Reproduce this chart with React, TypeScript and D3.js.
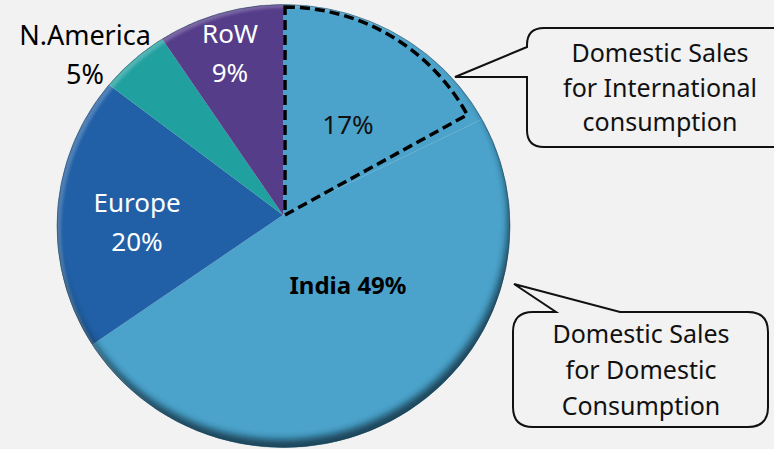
import React, { useRef, useEffect } from "react";
import * as d3 from "d3";

// slices clockwise from 12 o'clock
const SLICES = ["Domestic Intl", "India", "Europe", "N.America", "RoW"];
const SHARES = [17, 49, 20, 5, 9];
const COLORS = ["#4ba3cb", "#4ba3cb", "#2160a6", "#20a09f", "#553d8a"];
const LABELS = [["17%"], ["India 49%"], ["Europe", "20%"], ["N.America", "5%"], ["RoW", "9%"]];
const CALLOUT_INTL = ["Domestic Sales", "for International", "consumption"];
const CALLOUT_DOM = ["Domestic Sales", "for Domestic", "Consumption"];

const W = 774;
const H = 449;

function PieChart() {
  const svgRef = useRef<SVGSVGElement>(null);

  useEffect(() => {
    const svg = d3.select(svgRef.current);
    svg.selectAll("*").remove();

    // the pie is drawn slightly tilted: the rim is an ellipse, the apex sits above its centre
    const cx = 283.5, cy = 226, rx = 226.5, ry = 221.5;
    const apex: [number, number] = [283, 215];
    const rim = (a: number): [number, number] => [cx + rx * Math.sin(a), cy - ry * Math.cos(a)];
    const ellipseD = (x: number, y: number) =>
      `M${x - rx},${y}a${rx},${ry} 0 1 0 ${2 * rx},0a${rx},${ry} 0 1 0 ${-2 * rx},0Z`;

    const defs = svg.append("defs");
    defs.append("clipPath").attr("id", "pieClip")
      .append("path").attr("d", ellipseD(cx, cy));
    defs.append("filter").attr("id", "blur3").attr("x", "-10%").attr("y", "-10%").attr("width", "120%").attr("height", "120%")
      .append("feGaussianBlur").attr("stdDeviation", 3.5);
    defs.append("filter").attr("id", "blur2")
      .append("feGaussianBlur").attr("stdDeviation", 1.5);

    const arcs = d3.pie<number>().sort(null).value((d) => d)(SHARES);
    const lineGen = d3.line();

    const g = svg.append("g");
    g.selectAll("path.slice")
      .data(arcs)
      .join("path")
      .attr("class", "slice")
      .attr("d", (d) => {
        const n = Math.max(4, Math.ceil((d.endAngle - d.startAngle) / 0.01));
        const pts: [number, number][] = [apex];
        d3.range(n + 1).forEach((i) => pts.push(rim(d.startAngle + (d.endAngle - d.startAngle) * i / n)));
        return lineGen(pts) + "Z";
      })
      .attr("fill", (d, i) => COLORS[i]);

    // bevel: dark rim bottom/right, light rim top/left
    const bevel = svg.append("g").attr("clip-path", "url(#pieClip)");
    bevel.append("path")
      .attr("d", `M-50,-50H${W + 50}V${H + 50}H-50Z` + ellipseD(cx - 2, cy - 8))
      .attr("fill-rule", "evenodd")
      .attr("fill", "#0a2536")
      .attr("opacity", 0.75)
      .attr("filter", "url(#blur3)");
    bevel.append("path")
      .attr("d", `M-50,-50H${W + 50}V${H + 50}H-50Z` + ellipseD(cx + 4, cy + 3))
      .attr("fill-rule", "evenodd")
      .attr("fill", "#ffffff")
      .attr("opacity", 0.22)
      .attr("filter", "url(#blur2)");
    svg.append("path")
      .attr("d", ellipseD(cx, cy))
      .attr("fill", "none")
      .attr("stroke", "#1c3f55")
      .attr("stroke-opacity", 0.5)
      .attr("stroke-width", 1);

    // dashed outline of the internationally consumed share
    const dashArc = d3.arc<any>().innerRadius(0).outerRadius(208);
    svg.append("path")
      .attr("transform", `translate(${apex[0] + 2},${apex[1]})`)
      .attr("d", dashArc({ startAngle: arcs[0].startAngle, endAngle: arcs[0].endAngle }))
      .attr("fill", "none")
      .attr("stroke", "#000")
      .attr("stroke-width", 3.5)
      .attr("stroke-dasharray", "10 5")
      .attr("stroke-linejoin", "miter");

    // slice labels: [x, first baseline], size, weight, colour
    const labelAt: [number, number][] = [[348, 134], [348, 294], [137, 212], [85, 45], [230, 43]];
    const labelStyle = [
      { size: 26, weight: 400, fill: "#111" },
      { size: 24, weight: 700, fill: "#000" },
      { size: 26, weight: 400, fill: "#fff" },
      { size: 27, weight: 400, fill: "#000" },
      { size: 26, weight: 400, fill: "#fff" },
    ];
    LABELS.forEach((lines, i) => {
      const t = svg.append("text")
        .attr("text-anchor", "middle")
        .attr("font-family", "'Noto Sans', sans-serif")
        .attr("font-size", labelStyle[i].size)
        .attr("font-weight", labelStyle[i].weight)
        .attr("fill", labelStyle[i].fill);
      lines.forEach((s, j) => {
        t.append("tspan").attr("x", labelAt[i][0]).attr("y", labelAt[i][1] + j * 39).text(s);
      });
    });

    // callouts
    const r1 = 17;
    const c1 = d3.path();
    c1.moveTo(527 + r1, 28);
    c1.lineTo(W + 20, 28);
    c1.lineTo(W + 20, 147);
    c1.lineTo(527 + r1, 147);
    c1.quadraticCurveTo(527, 147, 527, 147 - r1);
    c1.lineTo(527, 77);
    c1.lineTo(455, 77);
    c1.lineTo(527, 47);
    c1.lineTo(527, 28 + r1);
    c1.quadraticCurveTo(527, 28, 527 + r1, 28);
    c1.closePath();

    const r2 = 20;
    const c2 = d3.path();
    c2.moveTo(513 + r2, 312);
    c2.lineTo(556, 312);
    c2.lineTo(514, 284);
    c2.lineTo(620, 312);
    c2.lineTo(768 - r2, 312);
    c2.quadraticCurveTo(768, 312, 768, 312 + r2);
    c2.lineTo(768, 427 - r2);
    c2.quadraticCurveTo(768, 427, 768 - r2, 427);
    c2.lineTo(513 + r2, 427);
    c2.quadraticCurveTo(513, 427, 513, 427 - r2);
    c2.lineTo(513, 312 + r2);
    c2.quadraticCurveTo(513, 312, 513 + r2, 312);
    c2.closePath();

    [c1, c2].forEach((p) => {
      svg.append("path")
        .attr("d", p.toString())
        .attr("fill", "#f2f2f2")
        .attr("stroke", "#111")
        .attr("stroke-width", 2)
        .attr("stroke-linejoin", "miter");
    });

    const callText = (lines: string[], x: number, y0: number, step: number) => {
      const t = svg.append("text")
        .attr("text-anchor", "middle")
        .attr("font-family", "'Noto Sans', sans-serif")
        .attr("font-size", 25)
        .attr("fill", "#111");
      lines.forEach((s, j) => t.append("tspan").attr("x", x).attr("y", y0 + j * step).text(s));
    };
    callText(CALLOUT_INTL, 660, 62, 34.5);
    callText(CALLOUT_DOM, 641, 343, 36);
  }, []);

  return (
    <svg ref={svgRef} width={W} height={H}
         style={{ position: "absolute", left: 0, top: 0, background: "#f2f2f2" }} />
  );
}

function App() {
  return <PieChart />;
}

export default App;
